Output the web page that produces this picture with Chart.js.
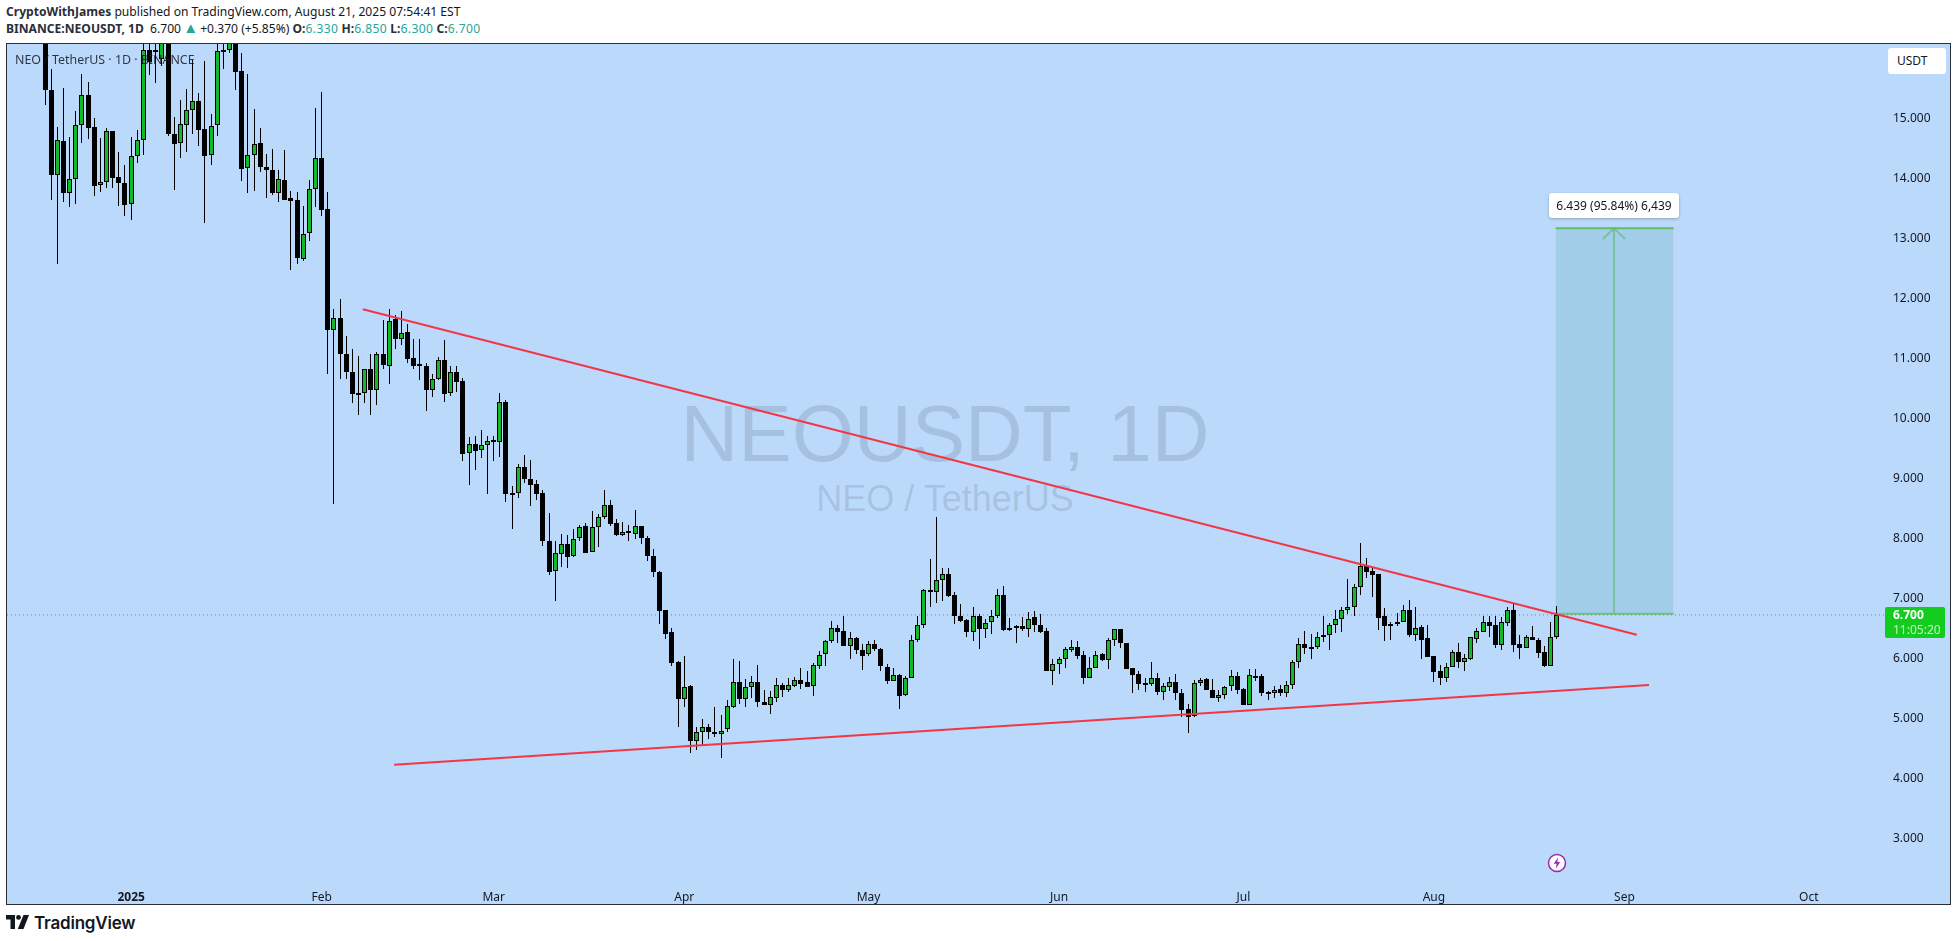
<!DOCTYPE html>
<html>
<head>
<meta charset="utf-8">
<title>NEOUSDT, 1D</title>
<script src="https://cdn.jsdelivr.net/npm/chart.js@4/dist/chart.umd.js"></script>
<style>
  html, body { margin: 0; padding: 0; background: #fff; }
  body { width: 1957px; height: 941px; position: relative; overflow: hidden; font-family: "Noto Sans", sans-serif; color: #131722; }
  .abs { position: absolute; white-space: nowrap; }
  #line1, #line2 { left: 6px; font-size: 12.1px; line-height: 16px; }
  #line1 { top: 4px; }
  #line2 { top: 21px; }
  .b { font-weight: 700; color: #2a2e39; }
  .g { color: #26a69a; letter-spacing: .4px; }
  .tri { color: #26a69a; font-size: 15px; line-height: 0; margin: 0 -1px; }
  #pane { left: 6px; top: 43px; width: 1943px; height: 860px; border: 1px solid #2a2e39; background: #bbd9fb; }
  .wm { left: 0; width: 1890px; text-align: center; font-family: "Liberation Sans", sans-serif; color: rgba(42, 46, 57, .14); line-height: 1; }
  #wm1 { top: 394px; font-size: 80px; }
  #wm2 { top: 481px; font-size: 36px; }
  #chart { position: absolute; left: 7px; top: 44px; }
  #legend { left: 15px; top: 50px; font-size: 12.4px; line-height: 20px; color: rgba(19, 23, 34, .85); }
  #usdt { left: 1888px; top: 48px; width: 58px; height: 26px; border-radius: 3px; background: #fff; font-size: 12px; line-height: 26px; text-indent: 9px; }
  #measure { left: 1549px; top: 193px; width: 130px; height: 25px; border-radius: 3px; background: #fff; box-shadow: 0 1px 3px rgba(0, 0, 0, .25); font-size: 12px; line-height: 25px; text-align: center; }
  #last { left: 1885px; top: 607px; width: 60px; height: 31px; border-radius: 2px; background: #14cc1e; color: #fff; font-size: 12px; line-height: 15px; }
  #last div { padding-left: 8px; }
  #last .t { color: rgba(255, 255, 255, .75); }
  #brand { left: 34px; top: 913px; font-family: Inter, sans-serif; font-weight: 600; font-size: 17px; line-height: 20px; color: #131722; letter-spacing: -.2px; }
</style>
</head>
<body>
<div class="abs" id="line1"><span class="b">CryptoWithJames</span> published on TradingView.com, August 21, 2025 07:54:41 EST</div>
<div class="abs" id="line2"><span class="b">BINANCE:NEOUSDT, 1D</span>&nbsp; 6.700 <span class="tri">▲</span> +0.370 (+5.85%) <span class="b">O:</span><span class="g">6.330</span> <span class="b">H:</span><span class="g">6.850</span> <span class="b">L:</span><span class="g">6.300</span> <span class="b">C:</span><span class="g">6.700</span></div>
<div class="abs" id="pane"></div>
<div class="abs wm" id="wm1">NEOUSDT, 1D</div>
<div class="abs wm" id="wm2">NEO / TetherUS</div>
<canvas id="chart" width="1943" height="860"></canvas>
<div class="abs" id="legend">NEO / TetherUS · 1D · BINANCE</div>
<div class="abs" id="usdt">USDT</div>
<div class="abs" id="measure">6.439 (95.84%) 6,439</div>
<div class="abs" id="last"><div><b>6.700</b></div><div class="t">11:05:20</div></div>
<svg class="abs" style="left:1547px;top:853px" width="20" height="20" viewBox="0 0 20 20">
  <circle cx="10" cy="10" r="8.5" fill="#fff" stroke="#9c27b0" stroke-width="1.5"/>
  <path d="M11 4.5 L6.8 10.8 H9.6 L8.9 15.5 L13.2 9 H10.4 Z" fill="#9c27b0"/>
</svg>
<svg class="abs" style="left:6px;top:915px" width="23" height="14" viewBox="0 0 23 14">
  <path d="M0 0 H9 V14 H4.5 V4.5 H0 Z" fill="#131722"/><circle cx="12.5" cy="2.4" r="2.4" fill="#131722"/><path d="M17.5 0 H23 L17.5 14 H11.8 Z" fill="#131722"/>
</svg>
<div class="abs" id="brand">TradingView</div>
<script>
// day numbers count from 1 Jan 2025, first candle is 18 Dec 2024
const firstDay = -14;

const opens = [
  17.2,15.46,14.04,14.60,13.74,13.98,14.88,15.37,14.84,13.88,
  13.93,14.77,14.00,13.91,13.55,14.35,14.62,16.13,16.13,15.97,
  16.6,14.73,14.57,14.88,15.13,15.28,14.80,14.38,14.87,16.13,
  16.13,16.4,15.77,14.15,14.38,14.57,14.18,14.12,13.74,13.95,
  13.65,13.62,12.64,13.07,13.80,14.32,13.47,11.46,11.65,11.06,
  10.76,10.40,10.41,10.80,10.46,11.05,10.86,11.63,11.31,11.42,
  10.98,10.89,10.86,10.46,10.63,10.96,10.41,10.76,10.60,9.40,
  9.55,9.45,9.53,9.61,9.59,10.26,8.71,8.73,9.16,8.97,
  8.88,8.73,7.94,7.43,7.72,7.89,7.68,7.99,8.18,7.75,
  8.16,8.34,8.54,8.24,8.04,8.10,8.05,8.19,7.98,7.68,
  7.42,6.78,6.41,5.92,5.30,5.51,4.59,4.74,4.83,4.74,
  4.72,4.79,5.17,5.58,5.30,5.49,5.58,5.24,5.20,5.31,
  5.53,5.45,5.51,5.61,5.58,5.51,5.85,6.04,6.27,6.48,
  6.44,6.19,6.31,6.11,6.04,6.21,6.14,5.83,5.59,5.69,
  5.36,5.64,6.29,6.53,7.12,7.09,7.28,7.38,7.03,6.69,
  6.61,6.42,6.69,6.47,6.58,6.68,7.03,6.46,6.52,6.51,
  6.47,6.66,6.54,6.43,5.77,5.88,5.97,6.12,6.16,6.03,
  5.64,5.81,6.04,5.95,6.28,6.46,6.23,5.81,5.71,5.57,
  5.55,5.64,5.42,5.50,5.58,5.39,5.13,5.01,5.56,5.63,
  5.44,5.32,5.36,5.51,5.68,5.46,5.20,5.68,5.68,5.42,
  5.39,5.46,5.40,5.53,5.91,6.21,6.17,6.17,6.36,6.36,
  6.53,6.64,6.79,6.84,7.16,7.52,7.43,7.38,6.68,6.55,
  6.55,6.59,6.79,6.37,6.50,6.31,6.01,5.76,5.64,5.83,
  6.08,5.92,5.97,6.30,6.42,6.58,6.53,6.20,6.57,6.78,
  6.21,6.15,6.34,6.29,6.08,5.84,6.33
];
const highs = [
  17.6,15.81,14.84,15.49,14.68,15.10,15.73,15.59,14.99,14.65,
  14.82,14.77,14.43,14.21,14.67,14.79,16.4,16.5,16.6,17.0,
  17.0,15.01,15.29,15.48,15.96,15.40,15.94,15.05,16.3,16.4,
  16.5,16.9,16.07,15.72,15.14,14.82,14.39,14.48,14.12,14.46,
  13.77,13.75,13.52,13.95,15.16,15.42,13.76,11.80,11.97,11.35,
  11.14,11.02,10.81,11.05,11.09,11.62,11.80,11.70,11.77,11.55,
  11.31,11.30,10.91,10.72,11.00,11.28,10.85,10.85,10.66,9.66,
  9.68,9.78,9.68,9.68,10.41,10.28,8.85,9.22,9.37,9.28,
  8.95,8.78,8.40,7.93,8.05,8.03,8.13,8.20,8.23,8.43,
  8.38,8.78,8.62,8.30,8.25,8.20,8.45,8.19,8.02,7.80,
  7.43,6.79,6.49,5.93,6.02,5.53,4.83,4.96,4.88,5.17,
  5.03,5.28,5.97,5.93,5.63,5.68,5.87,5.45,5.43,5.65,
  5.57,5.65,5.66,5.81,5.77,5.89,6.10,6.28,6.60,6.54,
  6.68,6.41,6.33,6.21,6.26,6.28,6.15,5.88,5.81,5.71,
  5.68,6.36,6.69,7.13,7.64,8.34,7.49,7.48,7.09,6.88,
  6.64,6.83,6.72,6.63,6.78,7.13,7.18,6.65,6.54,6.67,
  6.75,6.77,6.72,6.48,5.97,5.99,6.16,6.28,6.27,6.10,
  5.99,6.10,6.06,6.32,6.46,6.46,6.24,5.81,5.76,5.64,
  5.91,5.73,5.57,5.66,5.71,5.46,5.21,5.61,5.64,5.64,
  5.63,5.45,5.51,5.78,5.74,5.48,5.80,5.80,5.71,5.43,
  5.51,5.53,5.59,5.94,6.32,6.43,6.38,6.42,6.68,6.57,
  6.79,6.84,7.30,7.22,7.90,7.65,7.48,7.38,6.82,6.58,
  6.73,6.86,6.95,6.83,6.53,6.53,6.02,5.87,5.89,6.12,
  6.23,6.04,6.33,6.48,6.68,6.68,6.68,6.66,6.84,6.88,
  6.36,6.36,6.51,6.31,6.18,6.58,6.85
];
const lows = [
  15.21,13.62,12.55,13.58,13.51,13.55,14.57,14.64,13.69,13.75,
  13.83,13.83,13.52,13.35,13.28,14.24,14.37,15.71,15.58,15.85,
  14.69,13.79,14.33,14.43,14.72,14.53,13.24,14.21,14.69,15.81,
  16.08,15.45,13.94,13.74,13.77,14.09,13.66,13.71,13.58,13.62,
  12.45,12.55,12.60,12.94,13.51,13.35,10.72,8.55,10.64,10.64,
  10.24,10.04,10.24,10.04,10.21,10.81,10.56,11.14,11.21,10.91,
  10.81,10.62,10.11,10.34,10.62,10.26,10.36,10.42,9.26,8.87,
  9.11,9.31,8.71,9.27,9.34,8.59,8.14,8.65,8.90,8.52,
  8.62,7.85,7.36,6.94,7.50,7.49,7.67,7.94,7.74,7.75,
  7.84,8.30,8.19,8.02,8.02,7.94,7.97,7.89,7.60,7.34,
  6.55,6.30,5.84,4.83,5.17,4.40,4.45,4.51,4.63,4.67,
  4.32,4.74,5.14,5.21,5.17,5.31,5.16,5.19,5.05,5.24,
  5.33,5.42,5.49,5.46,5.49,5.34,5.80,5.85,6.24,6.23,
  6.19,5.97,6.04,5.78,6.02,6.10,5.76,5.54,5.59,5.13,
  5.35,5.64,6.25,6.49,6.83,6.90,6.93,7.00,6.55,6.58,
  6.33,6.27,6.14,6.32,6.38,6.65,6.44,6.43,6.23,6.43,
  6.33,6.42,6.40,5.77,5.53,5.71,5.81,6.08,5.97,5.55,
  5.64,5.81,5.93,5.80,6.19,6.15,5.80,5.40,5.45,5.41,
  5.51,5.37,5.28,5.43,5.28,4.99,4.73,5.00,5.51,5.44,
  5.32,5.24,5.30,5.43,5.38,5.19,5.19,5.60,5.35,5.28,
  5.31,5.35,5.33,5.46,5.81,6.05,5.97,6.14,6.25,6.12,
  6.40,6.42,6.71,6.69,7.03,7.32,7.00,6.45,6.27,6.28,
  6.52,6.59,6.33,6.27,5.97,5.99,5.58,5.53,5.58,5.83,
  5.82,5.77,5.94,6.24,6.42,6.33,6.15,6.11,6.52,6.08,
  5.96,6.15,6.28,5.98,5.83,5.84,6.30
];
const closes = [
  15.46,14.04,14.62,13.74,13.97,14.88,15.37,14.83,13.86,13.93,
  14.77,13.99,13.90,13.54,14.35,14.62,16.13,15.93,16.10,16.6,
  14.72,14.56,14.89,15.13,15.28,14.79,14.36,14.86,16.11,16.10,
  16.4,15.76,14.14,14.37,14.56,14.18,14.13,13.74,13.97,13.63,
  13.61,12.66,13.05,13.80,14.33,13.46,11.45,11.65,11.06,10.76,
  10.39,10.38,10.80,10.46,11.05,10.87,11.61,11.31,11.41,10.97,
  10.86,10.87,10.46,10.63,10.95,10.39,10.76,10.59,9.39,9.55,
  9.44,9.53,9.60,9.60,10.26,8.71,8.74,9.16,8.97,8.87,
  8.72,7.94,7.42,7.73,7.89,7.67,7.97,8.16,7.74,8.16,
  8.34,8.54,8.22,8.03,8.09,8.09,8.19,7.99,7.69,7.42,
  6.77,6.39,5.90,5.30,5.49,4.59,4.74,4.83,4.75,4.72,
  4.77,5.18,5.58,5.30,5.49,5.58,5.24,5.19,5.33,5.53,
  5.45,5.53,5.61,5.55,5.50,5.86,6.03,6.26,6.48,6.42,
  6.19,6.31,6.11,6.02,6.21,6.14,5.84,5.59,5.69,5.35,
  5.64,6.29,6.54,7.11,7.10,7.28,7.38,7.02,6.69,6.60,
  6.42,6.68,6.47,6.56,6.68,7.03,6.45,6.49,6.50,6.47,
  6.64,6.54,6.42,5.77,5.88,5.96,6.13,6.16,6.02,5.64,
  5.81,6.03,5.95,6.28,6.46,6.23,5.80,5.70,5.55,5.55,
  5.64,5.42,5.51,5.58,5.39,5.12,5.00,5.56,5.62,5.44,
  5.32,5.36,5.49,5.68,5.45,5.20,5.69,5.67,5.40,5.39,
  5.44,5.40,5.53,5.91,6.21,6.15,6.15,6.34,6.34,6.53,
  6.63,6.78,6.84,7.16,7.51,7.42,7.37,6.65,6.52,6.52,
  6.59,6.79,6.37,6.49,6.29,6.00,5.75,5.65,5.83,6.08,
  5.91,5.98,6.33,6.43,6.58,6.51,6.20,6.58,6.78,6.20,
  6.15,6.33,6.28,6.07,5.85,6.33,6.70
];

const priceTicks = [3, 4, 5, 6, 7, 8, 9, 10, 11, 12, 13, 14, 15];
const monthDays = [0, 31, 59, 90, 120, 151, 181, 212, 243, 273];
const monthLabels = ['2025', 'Feb', 'Mar', 'Apr', 'May', 'Jun', 'Jul', 'Aug', 'Sep', 'Oct'];

// the two hand drawn trend lines, [day, price]
const upperTrend = [[37.7, 11.80], [245.0, 6.37]];
const lowerTrend = [[42.8, 4.20], [247.0, 5.53]];

// long position tool and last price line
const lastPrice = 6.7;
const targetBox = { fromDay: 231.8, toDay: 251, low: 6.72, high: 13.15 };
const arrowDay = 241.3;

const xMin = -20.2, xMax = 285.4, yMin = 2.345, yMax = 16.224;
const GREEN = '#13b928', BLACK = '#000000', RED = '#f23645', TOOL = '#66bb6a';

const days = opens.map((_, i) => firstDay + i);
const wickData = days.map((d, i) => ({ x: d, y: [lows[i], highs[i]] }));
const bodyData = days.map((d, i) => ({ x: d, y: [opens[i], closes[i]] }));
const bodyColors = days.map((_, i) => closes[i] >= opens[i] ? GREEN : BLACK);
const toPoints = pairs => pairs.map(([x, y]) => ({ x, y }));

// bars land on whole pixels, the same way the candles do on the original
const snapCandles = {
  id: 'snapCandles',
  afterDatasetsUpdate(chart) {
    chart.getSortedVisibleDatasetMetas().forEach(meta => {
      if (meta.type !== 'bar') return;
      meta.data.forEach(el => {
        const top = Math.round(Math.min(el.y, el.base));
        let bottom = Math.round(Math.max(el.y, el.base));
        if (bottom - top < 2) bottom = top + 2;
        el.x = Math.floor(el.x) + 0.5;
        el.y = top;
        el.base = bottom;
      });
    });
  }
};

const lineDefaults = { type: 'line', pointRadius: 0, borderWidth: 2, tension: 0, fill: false };

new Chart(document.getElementById('chart'), {
  type: 'bar',
  plugins: [snapCandles],
  data: {
    datasets: [
      { ...lineDefaults, label: 'Target', order: 6, data: toPoints([[targetBox.fromDay, targetBox.high], [targetBox.toDay, targetBox.high]]),
        borderColor: TOOL, backgroundColor: 'rgba(140, 195, 215, .5)', fill: { target: { value: targetBox.low } } },
      { ...lineDefaults, label: 'Entry', order: 6, data: toPoints([[targetBox.fromDay, targetBox.low], [targetBox.toDay, targetBox.low]]), borderColor: TOOL },
      { ...lineDefaults, label: 'Arrow', order: 6, data: toPoints([[arrowDay, targetBox.low], [arrowDay, targetBox.high]]), borderColor: TOOL },
      { ...lineDefaults, label: 'Arrow head', order: 6, data: toPoints([[arrowDay - 1.8, targetBox.high - 0.18], [arrowDay, targetBox.high], [arrowDay + 1.8, targetBox.high - 0.18]]), borderColor: TOOL },
      { ...lineDefaults, label: 'Last price', order: 5, data: toPoints([[xMin, lastPrice], [xMax, lastPrice]]), borderColor: '#14cc1e', borderWidth: 1, borderDash: [1, 3] },
      { label: 'Wicks', order: 4, grouped: false, data: wickData, backgroundColor: BLACK, borderWidth: 0, maxBarThickness: 1, barPercentage: 1, categoryPercentage: 1, inflateAmount: 0 },
      { label: 'Bodies', order: 3, grouped: false, data: bodyData, backgroundColor: bodyColors, borderColor: BLACK, borderWidth: 1, borderSkipped: false, maxBarThickness: 5, barPercentage: 1, categoryPercentage: 1, inflateAmount: 0 },
      { ...lineDefaults, label: 'Upper trend', order: 1, data: toPoints(upperTrend), borderColor: RED },
      { ...lineDefaults, label: 'Lower trend', order: 1, data: toPoints(lowerTrend), borderColor: RED }
    ]
  },
  options: {
    responsive: false,
    animation: false,
    events: [],
    layout: { padding: 0 },
    plugins: { legend: { display: false }, tooltip: { enabled: false } },
    scales: {
      x: {
        type: 'linear',
        offset: false,
        min: xMin,
        max: xMax,
        grid: { display: false, offset: false },
        border: { display: false },
        afterBuildTicks: scale => { scale.ticks = monthDays.map(value => ({ value })); },
        afterFit: scale => {
          scale.height = 28;
          scale.paddingLeft = scale.paddingRight = scale.paddingTop = scale.paddingBottom = 0;
        },
        ticks: {
          autoSkip: false,
          maxRotation: 0,
          padding: 6,
          color: '#131722',
          font: ctx => ({ family: '"Noto Sans"', size: 12, weight: ctx.index === 0 ? '700' : '400' }),
          callback: (value, index) => monthLabels[index]
        }
      },
      y: {
        type: 'linear',
        position: 'right',
        min: yMin,
        max: yMax,
        grid: { display: false, drawTicks: false },
        border: { display: false },
        afterBuildTicks: scale => { scale.ticks = priceTicks.map(value => ({ value })); },
        afterFit: scale => {
          scale.width = 65;
          scale.paddingLeft = scale.paddingRight = scale.paddingTop = scale.paddingBottom = 0;
        },
        ticks: {
          autoSkip: false,
          padding: 8,
          labelOffset: 1.5,
          color: '#131722',
          font: { family: '"Noto Sans"', size: 12 },
          callback: value => value.toFixed(3)
        }
      }
    }
  }
});
</script>
</body>
</html>
